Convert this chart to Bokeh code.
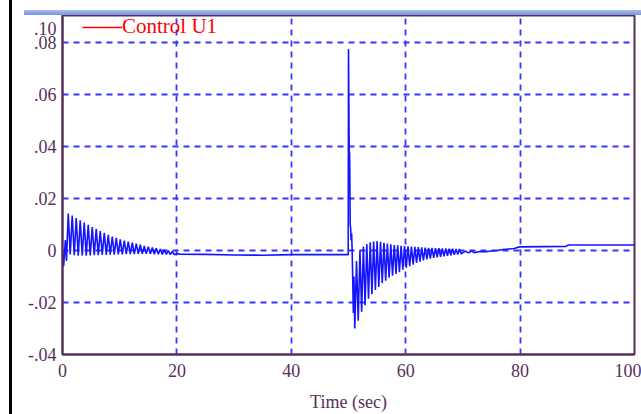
from bokeh.plotting import figure
from bokeh.models import Range1d, FixedTicker, Legend, LegendItem, Div, Spacer
from bokeh.layouts import row, column
from bokeh.embed import file_html
from bokeh.resources import INLINE

# ---- data ----
time_sec = [
    0.0, 0.2, 0.5, 0.7, 1.0, 1.35, 1.7, 2.05, 2.4, 2.75, 3.1, 3.45, 3.8, 4.15, 4.5, 4.85,
    5.2, 5.55, 5.9, 6.25, 6.6, 6.95, 7.3, 7.65, 8.0, 8.35, 8.7, 9.05, 9.4, 9.75, 10.1,
    10.45, 10.8, 11.15, 11.5, 11.85, 12.2, 12.55, 12.9, 13.25, 13.6, 13.95, 14.3, 14.65,
    15.0, 15.35, 15.7, 16.05, 16.4, 16.75, 17.1, 17.45, 17.8, 18.15, 18.5, 18.85, 19.2,
    19.55, 20.0,
    20.5, 25.0, 30.0, 35.0, 40.0, 45.0, 49.95,
    50.0, 50.12, 50.2, 50.3, 50.38, 50.45, 50.55, 50.65, 50.85, 50.95,
    51.1, 51.4, 51.7, 52.0, 52.3, 52.6, 52.9, 53.2, 53.5, 53.8, 54.1, 54.4, 54.7, 55.0,
    55.3, 55.6, 55.9, 56.2, 56.5, 56.8, 57.1, 57.4, 57.7, 58.0, 58.3, 58.6, 58.9, 59.2,
    59.5, 59.8, 60.1, 60.4, 60.7, 61.0, 61.3, 61.6, 61.9, 62.2, 62.5, 62.8, 63.1, 63.4,
    63.7, 64.0, 64.3, 64.6, 64.9, 65.2, 65.5, 65.8, 66.1, 66.4, 66.7, 67.0, 67.3, 67.6,
    67.9, 68.2, 68.5, 68.8, 69.1, 69.4, 69.7,
    70.0, 70.5, 71.0, 71.5, 72.0, 73.0, 74.0, 75.0, 76.0, 77.0, 78.0, 79.0, 79.5, 80.0,
    84.0, 88.0, 88.5, 94.0, 100.0,
]
control_u1 = [
    0.0, -0.006, 0.004, -0.004, 0.0142, -0.0015, 0.0135, -0.0018, 0.0125, -0.002, 0.0116,
    -0.0019, 0.0108, -0.002, 0.0099, -0.0019, 0.0090, -0.0018, 0.0083, -0.0018, 0.0075,
    -0.0017, 0.0068, -0.0017, 0.0060, -0.0016, 0.0054, -0.0016, 0.0049, -0.0015, 0.0043,
    -0.0015, 0.0038, -0.0014, 0.0034, -0.0014, 0.0030, -0.0014, 0.0026, -0.0013, 0.0022,
    -0.0013, 0.0018, -0.0013, 0.0015, -0.0013, 0.0012, -0.0014, 0.0009, -0.0014, 0.0006,
    -0.0015, 0.0003, -0.0015, 0.0000, -0.0016, -0.0004, -0.0016, -0.0012,
    -0.0014, -0.0015, -0.0017, -0.0018, -0.0016, -0.0016, -0.0016,
    0.0775, 0.0385, 0.037, 0.010, 0.0085, 0.004, 0.0065, -0.001, -0.024, -0.010,
    -0.030, -0.004, -0.027, 0.0, -0.0235, 0.0015, -0.021, 0.0025, -0.0185, 0.0032,
    -0.0168, 0.0035, -0.0152, 0.0036, -0.014, 0.0034, -0.0126, 0.003, -0.0116, 0.0027,
    -0.0105, 0.0024, -0.0097, 0.0021, -0.009, 0.002, -0.0083, 0.0018, -0.0074, 0.0017,
    -0.0066, 0.0016, -0.006, 0.0015, -0.0054, 0.0014, -0.0048, 0.0013, -0.0043, 0.0012,
    -0.0038, 0.0011, -0.0034, 0.001, -0.0031, 0.001, -0.0028, 0.0009, -0.0026, 0.0009,
    -0.0024, 0.0008, -0.0022, 0.0008, -0.002, 0.0007, -0.0018, 0.0007, -0.0016, 0.0006,
    -0.0015, 0.0006, -0.0013,
    -0.0008, -0.0003, -0.0009, -0.0002, -0.0008, -0.0004, -0.0005, -0.0002, 0.0, 0.0004,
    0.0006, 0.0008, 0.0012, 0.0014,
    0.0015, 0.0016, 0.0021, 0.0021, 0.0021,
]

x_ticks = [0, 20, 40, 60, 80, 100]
x_tick_labels = ["0", "20", "40", "60", "80", "100"]
y_ticks = [-0.04, -0.02, 0.0, 0.02, 0.04, 0.06, 0.08]
y_tick_labels = ["-.04", "-.02", "0", ".02", ".04", ".06", ".08"]
y_extra_tick = 0.0854
y_extra_label = ".10"
series_name = "Control U1"
x_title = "Time (sec)"

AX = "#57305a"
FONT = "Liberation Serif"

p = figure(width=629, height=399, x_range=Range1d(0, 100), y_range=Range1d(-0.04, 0.0904),
           output_backend="svg", toolbar_location=None,
           min_border_left=50, min_border_right=7, min_border_top=0, min_border_bottom=59)
p.background_fill_color = "white"
p.border_fill_color = "white"
p.outline_line_color = AX
p.outline_line_width = 2

p.line(time_sec, control_u1, line_color="#1414ff", line_width=1.6)

legend_src = p.line([float("nan")], [float("nan")], line_color="red", line_width=1.3)
legend = Legend(items=[LegendItem(label=series_name, renderers=[legend_src])],
                location=(20, 315), padding=0, margin=0, spacing=0,
                glyph_width=40, glyph_height=20, label_height=20, label_standoff=0,
                background_fill_alpha=0, border_line_alpha=0,
                label_text_font=FONT, label_text_font_size="21px", label_text_color="red")
p.add_layout(legend)

# axes
p.xaxis.ticker = FixedTicker(ticks=x_ticks)
p.xaxis.major_label_overrides = {v: l for v, l in zip(x_ticks, x_tick_labels)}
p.yaxis.ticker = FixedTicker(ticks=y_ticks + [y_extra_tick])
ov = {v: l for v, l in zip(y_ticks, y_tick_labels)}
ov[y_extra_tick] = y_extra_label
p.yaxis.major_label_overrides = ov
for ax in (p.xaxis, p.yaxis):
    ax.axis_line_color = AX
    ax.axis_line_width = 2
    ax.major_tick_in = 0
    ax.major_tick_out = 0
    ax.minor_tick_in = 0
    ax.minor_tick_out = 0
    ax.major_label_text_font = FONT
    ax.major_label_text_font_size = "18px"
    ax.major_label_text_color = AX
p.yaxis.major_label_standoff = 6
p.xaxis.major_label_standoff = 9
p.xaxis.axis_label = x_title
p.xaxis.axis_label_text_font = FONT
p.xaxis.axis_label_text_font_size = "18px"
p.xaxis.axis_label_text_font_style = "normal"
p.xaxis.axis_label_text_color = AX
p.xaxis.axis_label_standoff = 12

# grid
p.xgrid.ticker = FixedTicker(ticks=x_ticks[1:-1])
p.ygrid.ticker = FixedTicker(ticks=y_ticks[1:])
for g in (p.xgrid, p.ygrid):
    g.grid_line_color = "#3535ff"
    g.grid_line_width = 1.8
    g.grid_line_dash = "6 5"

# window decorations: black frame edge on the left, blue title strip on top
left_gap = Spacer(width=9, height=414, margin=0)
black_edge = Div(text="", width=3, height=414, margin=0,
                 styles={"background-color": "black"})
top_gap = Spacer(width=629, height=10, margin=0)
strip_gap = Spacer(width=12, height=5, margin=0)
blue_strip = Div(text="", width=617, height=5, margin=0,
                 styles={"background": "linear-gradient(#a9bff0, #7693e0)"})
layout = row(left_gap, black_edge,
             column(top_gap, row(strip_gap, blue_strip, spacing=0), p, spacing=0),
             spacing=0)

open("out.html", "w").write(file_html(layout, INLINE))
